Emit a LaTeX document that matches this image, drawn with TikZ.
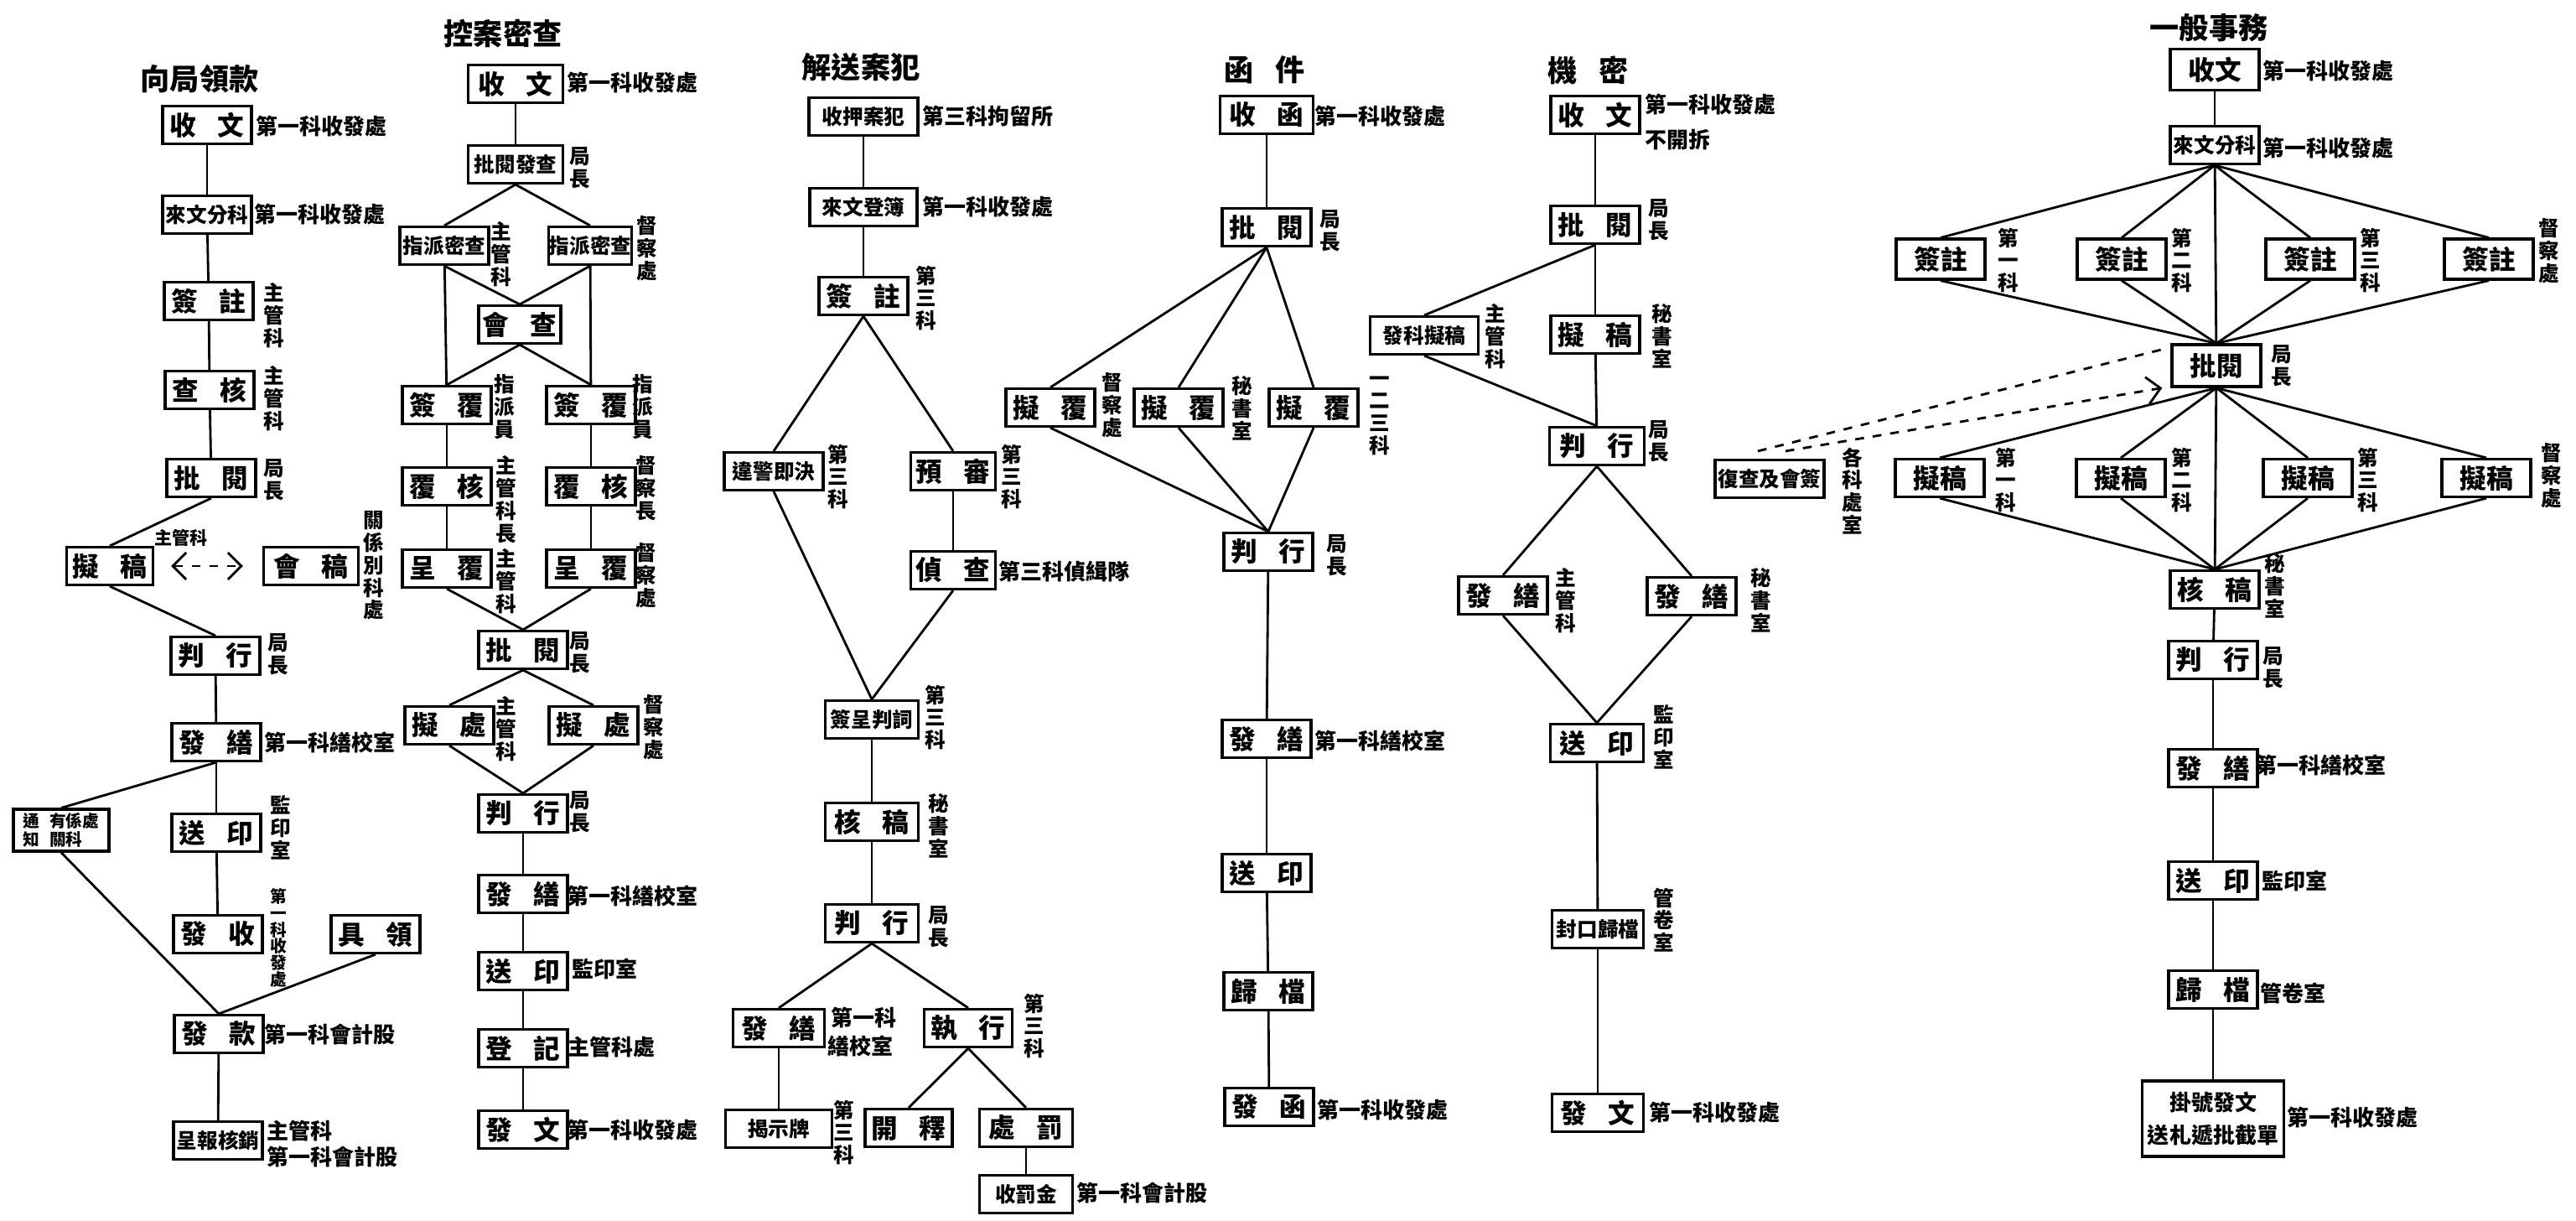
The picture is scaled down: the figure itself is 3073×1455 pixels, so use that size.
\documentclass[tikz,border=0pt]{standalone}
\usepackage{fontspec}
\setmainfont{Noto Sans CJK TC}
\usetikzlibrary{arrows.meta,positioning,calc}
\newcommand{\two}[2]{#1\hspace{2.6mm}#2}

\tikzset{
  box/.style={draw, line width=0.9pt, minimum width=10.6mm, minimum height=4.5mm,
    inner sep=0pt, font=\fontsize{9}{10}\selectfont\bfseries},
  sbox/.style={box, font=\fontsize{7}{8}\selectfont\bfseries},
  link/.style={line width=0.8pt},
  lab/.style={anchor=west, inner sep=0pt, font=\fontsize{7.4}{8}\selectfont\bfseries},
  vlab/.style={anchor=north, align=center, inner sep=0pt, font=\fontsize{7}{7.6}\selectfont\bfseries},
  ttl/.style={font=\fontsize{10}{11}\selectfont\bfseries},
}

\begin{document}
\begin{tikzpicture}[x=0.1mm, y=-0.1mm, >={Straight Barb[length=1.6mm]}]
  \fill[white] (0,0) rectangle (3073,1455);
  \useasboundingbox (0,0) rectangle (3073,1455);
  % ---------------------------------------------------------------- 向局領款
  \node[ttl] (a0) at (238,94) {向局領款};
  \node[box] (a1) at (247,149) {\two{收}{文}};
  \node[sbox] (a2) at (247,256) {來文分科};
  \node[box] (a3) at (249,359) {\two{簽}{註}};
  \node[box] (a4) at (250,465) {\two{查}{核}};
  \node[box] (a5) at (252,570) {\two{批}{閱}};
  \node[box, minimum width=10.3mm] (a6) at (131,675) {\two{擬}{稿}};
  \node[box, minimum width=11.3mm] (a7) at (371,675) {\two{會}{稿}};
  \node[box] (a8) at (257,782) {\two{判}{行}};
  \node[box] (a9) at (258,885) {\two{發}{繕}};
  \node[box, minimum width=11.4mm, minimum height=5mm, align=left,
    font=\fontsize{5.6}{6.2}\selectfont\bfseries] (a10) at (73,990) {通\hspace{1.2mm}有係處\\知\hspace{1.2mm}關科};
  \node[box] (a11) at (258,993) {\two{送}{印}};
  \node[box] (a12) at (260,1114) {\two{發}{收}};
  \node[box] (a13) at (448,1114) {\two{具}{領}};
  \node[box] (a14) at (261,1233) {\two{發}{款}};
  \node[sbox] (a15) at (260,1360) {呈報核銷};
  \node[lab] at (305,151) {第一科收發處};
  \node[lab] at (303,256) {第一科收發處};
  \node[vlab] at (327,337) {主\\管\\科};
  \node[vlab] at (327,436) {主\\管\\科};
  \node[vlab] at (327,547) {局\\長};
  \node[vlab] at (446,609) {關\\係\\別\\科\\處};
  \node[vlab] at (332,755) {局\\長};
  \node[lab] at (315,885) {第一科繕校室};
  \node[vlab] at (335,948) {監\\印\\室};
  \node[vlab, font=\fontsize{5.6}{5.6}\selectfont\bfseries] at (332,1059) {第\\一\\科\\收\\發\\處};
  \node[lab] at (315,1233) {第一科會計股};
  \node[lab] at (318,1348) {主管科};
  \node[lab] at (318,1379) {第一科會計股};
  \draw[link] (a1) -- (a2);
  \draw[link] (a2) -- (a3);
  \draw[link] (a3) -- (a4);
  \draw[link] (a4) -- (a5);
  \draw[link] (a5.south) -- (a6.north);
  \draw[link] (a6.south) -- (a8.north);
  \draw[link, dashed, <->, shorten <=2mm, shorten >=2.3mm] (a6.east) -- node[pos=0.25, above=1mm, font=\fontsize{6}{7}\selectfont\bfseries] {主管科} (a7.west);
  \draw[link] (a8) -- (a9);
  \draw[link] (a9) -- (a11);
  \draw[link] (a11) -- (a12);
  \draw[link] (a9.south) -- (a10.north);
  \draw[link] (a10.south) -- (a14.north);
  \draw[link] (a13.south) -- (a14.north);
  \draw[link] (a14) -- (a15);
  % ---------------------------------------------------------------- 控案密查
  \node[ttl] (b0) at (600,40) {控案密查};
  \node[box, minimum width=11.3mm] (b1) at (615,100) {\two{收}{文}};
  \node[sbox, minimum width=11.3mm] (b2) at (615,196) {批閱發查};
  \node[sbox] (b3) at (530,293) {指派密查};
  \node[sbox, minimum width=9.4mm] (b4) at (704,293) {指派密查};
  \node[box, minimum width=9.8mm] (b5) at (620,387) {\two{會}{查}};
  \node[box] (b6) at (533,483) {\two{簽}{覆}};
  \node[box] (b7) at (705,483) {\two{簽}{覆}};
  \node[box] (b8) at (533,580) {\two{覆}{核}};
  \node[box] (b9) at (705,580) {\two{覆}{核}};
  \node[box] (b10) at (533,678) {\two{呈}{覆}};
  \node[box] (b11) at (705,678) {\two{呈}{覆}};
  \node[box] (b12) at (624,775) {\two{批}{閱}};
  \node[box] (b13) at (536,865) {\two{擬}{處}};
  \node[box] (b14) at (708,865) {\two{擬}{處}};
  \node[box] (b15) at (624,970) {\two{判}{行}};
  \node[box] (b16) at (624,1066) {\two{發}{繕}};
  \node[box] (b17) at (624,1158) {\two{送}{印}};
  \node[box] (b18) at (624,1250) {\two{登}{記}};
  \node[box] (b19) at (624,1347) {\two{發}{文}};
  \node[lab] at (676,99) {第一科收發處};
  \node[vlab] at (692,175) {局\\長};
  \node[vlab] at (598,264) {主\\管\\科};
  \node[vlab] at (772,257) {督\\察\\處};
  \node[vlab] at (602,446) {指\\派\\員};
  \node[vlab] at (767,446) {指\\派\\員};
  \node[vlab] at (604,543) {主\\管\\科\\長};
  \node[vlab] at (771,543) {督\\察\\長};
  \node[vlab] at (604,654) {主\\管\\科};
  \node[vlab] at (771,647) {督\\察\\處};
  \node[vlab] at (692,753) {局\\長};
  \node[vlab] at (604,830) {主\\管\\科};
  \node[vlab] at (780,828) {督\\察\\處};
  \node[vlab] at (692,943) {局\\長};
  \node[lab] at (676,1068) {第一科繕校室};
  \node[lab] at (682,1155) {監印室};
  \node[lab] at (677,1249) {主管科處};
  \node[lab] at (676,1348) {第一科收發處};
  \draw[link] (b1) -- (b2);
  \draw[link] (b2.south) -- (b3.north);
  \draw[link] (b2.south) -- (b4.north);
  \draw[link] (b3) -- (b6);
  \draw[link] (b4) -- (b7);
  \draw[link] (b3.south) -- (b5.north);
  \draw[link] (b4.south) -- (b5.north);
  \draw[link] (b5.south) -- (b6.north);
  \draw[link] (b5.south) -- (b7.north);
  \draw[link] (b6) -- (b8);
  \draw[link] (b8) -- (b10);
  \draw[link] (b7) -- (b9);
  \draw[link] (b9) -- (b11);
  \draw[link] (b10.south) -- (b12.north);
  \draw[link] (b11.south) -- (b12.north);
  \draw[link] (b12.south) -- (b13.north);
  \draw[link] (b12.south) -- (b14.north);
  \draw[link] (b13.south) -- (b15.north);
  \draw[link] (b14.south) -- (b15.north);
  \draw[link] (b15) -- (b16);
  \draw[link] (b16) -- (b17);
  \draw[link] (b17) -- (b18);
  \draw[link] (b18) -- (b19);
  % ---------------------------------------------------------------- 解送案犯
  \node[ttl] (c0) at (1027,80) {解送案犯};
  \node[sbox, minimum width=13mm] (c1) at (1030,139) {收押案犯};
  \node[sbox, minimum width=12.8mm] (c2) at (1030,247) {來文登簿};
  \node[box] (c3) at (1030,353) {\two{簽}{註}};
  \node[sbox, minimum width=11.8mm] (c4) at (923,562) {違警即決};
  \node[box, minimum width=10.1mm] (c5) at (1137,562) {\two{預}{審}};
  \node[box, minimum width=10.1mm] (c6) at (1137,680) {\two{偵}{查}};
  \node[sbox, minimum width=11.1mm] (c7) at (1040,858) {簽呈判詞};
  \node[box, minimum width=11.1mm] (c8) at (1040,980) {\two{核}{稿}};
  \node[box, minimum width=11.1mm] (c9) at (1040,1101) {\two{判}{行}};
  \node[box, minimum width=10.9mm] (c10) at (929,1226) {\two{發}{繕}};
  \node[box, minimum width=10.5mm] (c11) at (1155,1226) {\two{執}{行}};
  \node[sbox, minimum width=12.7mm] (c12) at (929,1346) {揭示牌};
  \node[box, minimum width=10.4mm] (c13) at (1084,1345) {\two{開}{釋}};
  \node[box, minimum width=11.1mm] (c14) at (1224,1345) {\two{處}{罰}};
  \node[sbox, minimum width=11.1mm] (c15) at (1224,1424) {收罰金};
  \node[lab] at (1100,139) {第三科拘留所};
  \node[lab] at (1100,247) {第一科收發處};
  \node[vlab] at (1105,316) {第\\三\\科};
  \node[vlab] at (1000,529) {第\\三\\科};
  \node[vlab] at (1207,529) {第\\三\\科};
  \node[lab] at (1191,682) {第三科偵緝隊};
  \node[vlab] at (1116,816) {第\\三\\科};
  \node[vlab] at (1120,946) {秘\\書\\室};
  \node[vlab] at (1120,1080) {局\\長};
  \node[lab] at (991,1213) {第一科};
  \node[lab] at (987,1247) {繕校室};
  \node[vlab] at (1234,1184) {第\\三\\科};
  \node[vlab] at (1007,1311) {第\\三\\科};
  \node[lab] at (1284,1422) {第一科會計股};
  \draw[link] (c1) -- (c2);
  \draw[link] (c2) -- (c3);
  \draw[link] (c3.south) -- (c4.north);
  \draw[link] (c3.south) -- (c5.north);
  \draw[link] (c5) -- (c6);
  \draw[link] (c4.south) -- (c7.north);
  \draw[link] (c6.south) -- (c7.north);
  \draw[link] (c7) -- (c8);
  \draw[link] (c8) -- (c9);
  \draw[link] (c9.south) -- (c10.north);
  \draw[link] (c9.south) -- (c11.north);
  \draw[link] (c10) -- (c12);
  \draw[link] (c11.south) -- (c13.north);
  \draw[link] (c11.south) -- (c14.north);
  \draw[link] (c14) -- (c15);
  % ---------------------------------------------------------------- 函件
  \node[ttl] (d0) at (1509,83) {\two{函}{件}};
  \node[box, minimum width=11.1mm] (d1) at (1511,137) {\two{收}{函}};
  \node[box] (d2) at (1511,271) {\two{批}{閱}};
  \node[box] (d3) at (1253,486) {\two{擬}{覆}};
  \node[box] (d4) at (1406,486) {\two{擬}{覆}};
  \node[box] (d5) at (1567,486) {\two{擬}{覆}};
  \node[box] (d6) at (1513,658) {\two{判}{行}};
  \node[box] (d7) at (1511,881) {\two{發}{繕}};
  \node[box] (d8) at (1511,1041) {\two{送}{印}};
  \node[box] (d9) at (1513,1182) {\two{歸}{檔}};
  \node[box] (d10) at (1514,1320) {\two{發}{函}};
  \node[lab] at (1568,139) {第一科收發處};
  \node[vlab] at (1587,250) {局\\長};
  \node[vlab] at (1327,444) {督\\察\\處};
  \node[vlab] at (1482,448) {秘\\書\\室};
  \node[vlab] at (1646,448) {一\\二\\三\\科};
  \node[vlab] at (1595,637) {局\\長};
  \node[lab] at (1568,883) {第一科繕校室};
  \node[lab] at (1571,1324) {第一科收發處};
  \draw[link] (d1) -- (d2);
  \foreach \n in {d3,d4,d5} {
    \draw[link] (d2.south) -- (\n.north);
    \draw[link] (\n.south) -- (d6.north);
  }
  \draw[link] (d6) -- (d7);
  \draw[link] (d7) -- (d8);
  \draw[link] (d8) -- (d9);
  \draw[link] (d9) -- (d10);
  % ---------------------------------------------------------------- 機密
  \node[ttl] (e0) at (1895,84) {\two{機}{密}};
  \node[box] (e1) at (1903,137) {\two{收}{文}};
  \node[box] (e2) at (1903,268) {\two{批}{閱}};
  \node[sbox, minimum width=12.9mm] (e3) at (1699,400) {發科擬稿};
  \node[box] (e4) at (1903,399) {\two{擬}{稿}};
  \node[box, minimum width=11.3mm] (e5) at (1905,532) {\two{判}{行}};
  \node[box] (e6) at (1793,710) {\two{發}{繕}};
  \node[box] (e7) at (2018,711) {\two{發}{繕}};
  \node[box, minimum width=11.1mm] (e8) at (1905,886) {\two{送}{印}};
  \node[sbox, minimum width=10.9mm] (e9) at (1906,1108) {封口歸檔};
  \node[box, minimum width=10.9mm] (e10) at (1906,1327) {\two{發}{文}};
  \node[lab] at (1962,125) {第一科收發處};
  \node[lab] at (1962,167) {不開拆};
  \node[vlab] at (1979,237) {局\\長};
  \node[vlab] at (1784,362) {主\\管\\科};
  \node[vlab] at (1983,362) {秘\\書\\室};
  \node[vlab] at (1979,501) {局\\長};
  \node[vlab] at (1868,677) {主\\管\\科};
  \node[vlab] at (2101,677) {秘\\書\\室};
  \node[vlab] at (1985,840) {監\\印\\室};
  \node[vlab] at (1985,1058) {管\\卷\\室};
  \node[lab] at (1967,1327) {第一科收發處};
  \draw[link] (e1) -- (e2);
  \draw[link] (e2) -- (e4);
  \draw[link] (e4) -- (e5);
  \draw[link] (e2.south) -- (e3.north);
  \draw[link] (e3.south) -- (e5.north);
  \draw[link] (e5.south) -- (e6.north);
  \draw[link] (e5.south) -- (e7.north);
  \draw[link] (e6.south) -- (e8.north);
  \draw[link] (e7.south) -- (e8.north);
  \draw[link] (e8) -- (e9);
  \draw[link] (e9) -- (e10);
  % ---------------------------------------------------------------- 一般事務
  \node[ttl] (f0) at (2635,33) {一般事務};
  \node[box, minimum height=4.9mm] (f1) at (2642,83) {收文};
  \node[sbox] (f2) at (2642,173) {來文分科};
  \node[box, minimum height=4.8mm] (f3) at (2315,309) {簽註};
  \node[box, minimum height=4.8mm] (f4) at (2531,309) {簽註};
  \node[box, minimum height=4.8mm] (f5) at (2756,309) {簽註};
  \node[box, minimum height=4.8mm] (f6) at (2969,309) {簽註};
  \node[box, minimum height=5mm] (f7) at (2644,436) {批閱};
  \node[box] (f8) at (2314,570) {擬稿};
  \node[box] (f9) at (2530,570) {擬稿};
  \node[box] (f10) at (2753,570) {擬稿};
  \node[box] (f11) at (2966,570) {擬稿};
  \node[box] (f12) at (2642,703) {\two{核}{稿}};
  \node[box] (f13) at (2640,787) {\two{判}{行}};
  \node[box] (f14) at (2640,916) {\two{發}{繕}};
  \node[box] (f15) at (2640,1050) {\two{送}{印}};
  \node[box] (f16) at (2640,1180) {\two{歸}{檔}};
  \node[box, minimum width=16.9mm, minimum height=9mm, align=center,
    font=\fontsize{7.4}{11}\selectfont\bfseries] (f17) at (2640,1334) {掛號發文\\送札遞批截單};
  \node[sbox, minimum width=13mm] (f18) at (2111,571) {復查及會簽};
  \node[lab] at (2699,85) {第一科收發處};
  \node[lab] at (2699,177) {第一科收發處};
  \node[vlab] at (2396,271) {第\\一\\科};
  \node[vlab] at (2603,271) {第\\二\\科};
  \node[vlab] at (2828,271) {第\\三\\科};
  \node[vlab] at (3041,260) {督\\察\\處};
  \node[vlab] at (2722,411) {局\\長};
  \node[vlab] at (2393,533) {第\\一\\科};
  \node[vlab] at (2603,533) {第\\二\\科};
  \node[vlab] at (2825,533) {第\\三\\科};
  \node[vlab] at (3044,528) {督\\察\\處};
  \node[vlab] at (2210,533) {各\\科\\處\\室};
  \node[vlab] at (2714,660) {秘\\書\\室};
  \node[vlab] at (2712,771) {局\\長};
  \node[lab] at (2690,912) {第一科繕校室};
  \node[lab] at (2698,1050) {監印室};
  \node[lab] at (2696,1184) {管卷室};
  \node[lab] at (2728,1333) {第一科收發處};
  \draw[link] (f1) -- (f2);
  \draw[link] (f2) -- (f7);
  \draw[link] (f7) -- (f12);
  \foreach \n in {f3,f4,f5,f6} {
    \draw[link] (f2.south) -- (\n.north);
    \draw[link] (\n.south) -- (f7.north);
  }
  \foreach \n in {f8,f9,f10,f11} {
    \draw[link] (f7.south) -- (\n.north);
    \draw[link] (\n.south) -- (f12.north);
  }
  \draw[link] (f12) -- (f13);
  \draw[link] (f13) -- (f14);
  \draw[link] (f14) -- (f15);
  \draw[link] (f15) -- (f16);
  \draw[link] (f16) -- (f17);
  \draw[link, dashed] ([xshift=-1.4mm, yshift=0.9mm]f18.north) -- ([xshift=-0.9mm, yshift=-0.7mm]f7.north west);
  \draw[link, dashed, ->] ([xshift=1.9mm, yshift=0.9mm]f18.north) -- ([xshift=-1mm]f7.south west);
\end{tikzpicture}
\end{document}
